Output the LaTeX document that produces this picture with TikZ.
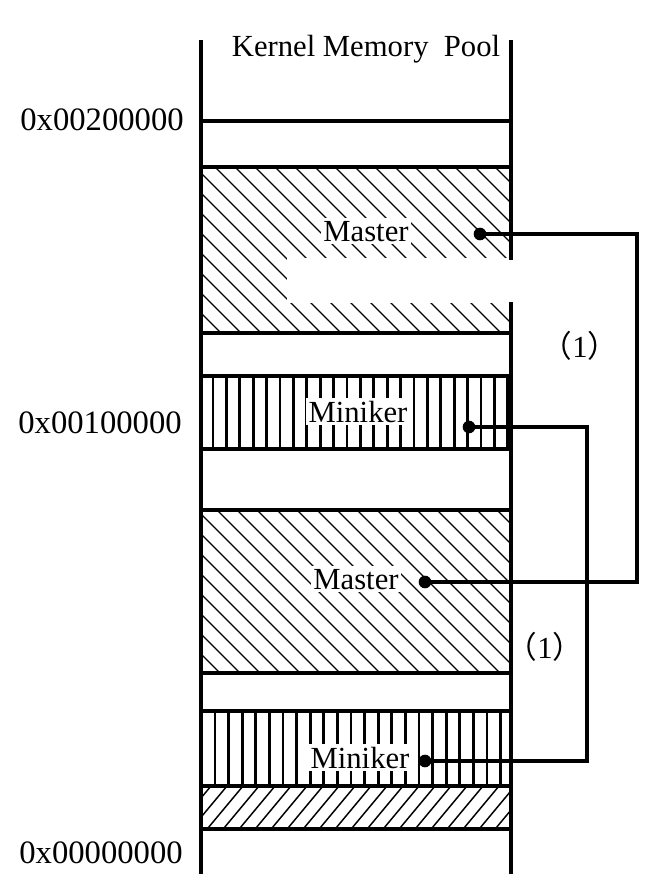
\documentclass[tikz,border=0pt]{standalone}
\usepackage{fontspec}
\setmainfont{Liberation Serif}
\newfontfamily\cjk{Noto Sans CJK SC}
\begin{document}
\begin{tikzpicture}[x=0.75pt,y=-0.75pt,
  border/.style={line width=2.6pt, line cap=rect},
  conn/.style={line width=2.3pt},
  diag/.style={line width=0.9pt},
  vert/.style={line width=2pt},
  fwd/.style={line width=1.1pt},
  txt/.style={font=\fontsize{23}{26}\selectfont, inner sep=0pt},
  lbl/.style={txt, inner sep=2pt, fill=white, anchor=base},
  addr/.style={txt, font=\fontsize{24.5}{27}\selectfont, anchor=base east},
  dotn/.style={circle, fill=black, inner sep=0pt, minimum size=9.5pt}]
\useasboundingbox (0,0) rectangle (664,888);

% Master 1 hatching
\begin{scope}
  \clip (201,167) rectangle (511,333);
  \foreach \x in {15,35,...,515} \draw[diag] (\x,167) -- ++(200,200);
\end{scope}
% Master 2 hatching
\begin{scope}
  \clip (201,510) rectangle (511,673);
  \foreach \x in {17,37,...,517} \draw[diag] (\x,510) -- ++(200,200);
\end{scope}
% Miniker hatching
\begin{scope}
  \clip (201,376) rectangle (511,449);
  \foreach \x in {213,226.4,...,508} \draw[vert] (\x,370) -- (\x,455);
\end{scope}
\begin{scope}
  \clip (201,711) rectangle (511,786);
  \foreach \x in {215,228.6,...,508} \draw[vert] (\x,705) -- (\x,790);
\end{scope}
% bottom band
\begin{scope}
  \clip (201,786) rectangle (511,829);
  \foreach \x in {200,216,...,600} \draw[fwd] (\x,780) -- ++(-45,54);
\end{scope}

% cut-out in first Master block
\fill[white] (287,258) rectangle (516,303);

% text
\node[txt, anchor=base] (title) at (366,57) {Kernel Memory\ \ Pool};
\node[lbl] (ma1) at (366,241) {Master};
\node[lbl] (mi1) at (358,422) {Miniker};
\node[lbl] (ma2) at (356,589) {Master};
\node[lbl] (mi2) at (360,768) {Miniker};
\node[addr] (a2) at (184,131) {0x00200000};
\node[addr] (a1) at (182,433) {0x00100000};
\node[addr] (a0) at (183,863) {0x00000000};
\node[txt] (p1) at (580,346) {{\cjk （}1{\cjk ）}};
\node[txt] (p2) at (545,647) {{\cjk （}1{\cjk ）}};

% borders
\draw[border] (201,42) -- (201,872);
\draw[border] (511,42) -- (511,258);
\draw[border] (511,304) -- (511,872);
\foreach \y in {121,167,333,376,449,510,673,711,786,829}
  \draw[border] (201,\y) -- (511,\y);

% dots and connectors
\node[dotn] (d1) at (480,234) {};
\node[dotn] (d2) at (425,582) {};
\node[dotn] (d3) at (469,427) {};
\node[dotn] (d4) at (425,761) {};
\coordinate (c1) at (637,234);
\coordinate (c2) at (587,427);
\draw[conn] (d1.center) -- (c1) |- (d2.center);
\draw[conn] (d3.center) -- (c2) |- (d4.center);
\end{tikzpicture}
\end{document}
